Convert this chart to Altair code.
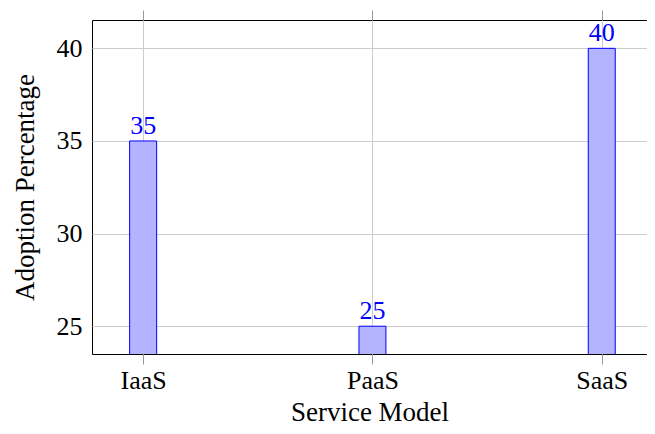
import altair as alt
import pandas as pd

categories = ["IaaS", "PaaS", "SaaS"]
values = [35, 25, 40]

df = pd.DataFrame({"idx": list(range(len(categories))), "model": categories, "value": values})

label_expr = "datum.value == 0 ? 'IaaS' : datum.value == 1 ? 'PaaS' : datum.value == 2 ? 'SaaS' : ''"
FONT = "Liberation Serif"
FS = 26
TFS = 27

xscale = alt.Scale(domain=[-0.2013, 2.1756], nice=False, zero=False)
yscale = alt.Scale(domain=[23.5, 41.53], nice=False, zero=False)

base = alt.Chart(df)

bars = base.mark_bar(size=27, fill="#b3b3ff", stroke="#0000ff", strokeWidth=1, clip=True).encode(
    x=alt.X("idx:Q", scale=xscale, title="Service Model",
            axis=alt.Axis(values=[0, 1, 2], labelExpr=label_expr, grid=True, gridColor="#cccccc",
                          tickColor="#999999", tickSize=10, labelPadding=3, titlePadding=6,
                          domain=False, labelFont=FONT, titleFont=FONT, labelFontSize=FS,
                          titleFontSize=TFS, titleFontWeight="normal", labelColor="black")),
    y=alt.Y("value:Q", scale=yscale, title="Adoption Percentage",
            axis=alt.Axis(values=[25, 30, 35, 40], grid=True, gridColor="#cccccc", ticks=False,
                          labelPadding=10, titlePadding=17, domain=False, labelFont=FONT,
                          titleFont=FONT, labelFontSize=FS, titleFontSize=TFS,
                          titleFontWeight="normal", labelColor="black")),
)

text = base.mark_text(baseline="bottom", dy=-2, color="#0000ff", font=FONT, fontSize=FS).encode(
    x=alt.X("idx:Q", scale=xscale, axis=None),
    y=alt.Y("value:Q", scale=yscale),
    text="value:Q",
)

top_ticks = base.mark_point(opacity=0).encode(
    x=alt.X("idx:Q", scale=xscale,
            axis=alt.Axis(orient="top", values=[0, 1, 2], labels=False, title=None, grid=False,
                          domain=False, tickColor="#999999", tickSize=10)),
    y=alt.Y("value:Q", scale=yscale),
)

chart = alt.layer(bars, text, top_ticks).resolve_axis(x="independent").properties(
    width=555, height=334,
    autosize=alt.AutoSizeParams(type="none"),
    padding={"left": 84, "top": 12, "right": 0, "bottom": 72},
).configure_view(stroke="black", strokeWidth=1)

chart.save("out.html", embed_options={"renderer": "svg", "actions": False})
